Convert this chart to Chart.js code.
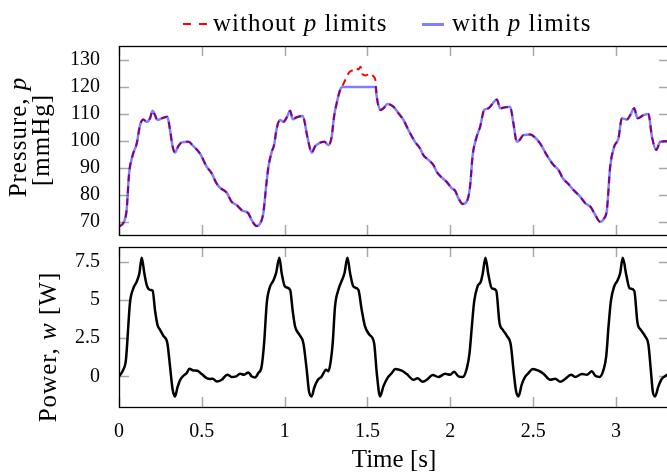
<!DOCTYPE html>
<html>
<head>
<meta charset="utf-8">
<script src="https://cdn.jsdelivr.net/npm/chart.js@4.4.1/dist/chart.umd.min.js"></script>
<style>
html, body { margin: 0; padding: 0; background: #fff; overflow: hidden; }
#wrap { position: relative; width: 667px; height: 475px; overflow: hidden; font-family: 'Liberation Serif', serif; color: #000; }
.box { position: absolute; left: 0; width: 680px; }
#topBox { top: 0; height: 240px; }
#botBox { top: 240px; height: 235px; }
.lab { position: absolute; font-size: 25px; line-height: 25px; letter-spacing: 1px; white-space: nowrap; }
.rot { transform: translate(-50%, -50%) rotate(-90deg); }
.key { position: absolute; height: 0; }
</style>
</head>
<body>
<div id="wrap">
  <div class="box" id="topBox"><canvas id="pressureChart"></canvas></div>
  <div class="box" id="botBox"><canvas id="powerChart"></canvas></div>

  <!-- legend -->
  <span class="key" style="left:183px; top:23px; width:8px; border-top:2px solid #ff0000;"></span>
  <span class="key" style="left:199px; top:23px; width:8px; border-top:2px solid #ff0000;"></span>
  <span class="lab" style="left:213px; top:10px;">without <i>p</i> limits</span>
  <span class="key" style="left:422px; top:23px; width:22px; border-top:3px solid #8080ff;"></span>
  <span class="lab" style="left:452px; top:10px;">with <i>p</i> limits</span>

  <!-- y axis titles -->
  <span class="lab rot" style="left:17px; top:137px;">Pressure, <i>p</i></span>
  <span class="lab rot" style="left:40px; top:140px;">[mmHg]</span>
  <span class="lab rot" style="left:47px; top:347px;">Power, <i>w</i> [W]</span>
</div>

<script>
// pressure samples (s, mmHg)
var pressureTime = [0.000,0.030,0.046,0.061,0.083,0.107,0.127,0.147,0.167,0.187,0.203,0.217,0.232,0.258,0.292,0.308,0.324,0.338,0.358,0.378,
  0.419,0.449,0.489,0.529,0.560,0.586,0.610,0.650,0.680,0.710,0.741,0.781,0.801,0.831,0.855,0.871,0.888,0.902,0.922,0.936,
  0.952,0.972,0.992,1.013,1.033,1.049,1.073,1.109,1.137,1.163,1.184,1.214,1.240,1.264,1.284,1.298,1.314,1.335,1.345,1.365,
  1.385,1.400,1.415,1.430,1.445,1.458,1.470,1.490,1.516,1.535,1.548,1.556,1.576,1.596,1.620,1.657,1.687,1.717,1.747,1.787,
  1.817,1.837,1.868,1.898,1.918,1.948,1.978,2.009,2.029,2.049,2.075,2.103,2.119,2.135,2.159,2.180,2.204,2.230,2.257,2.281,
  2.301,2.331,2.361,2.381,2.401,2.417,2.441,2.482,2.506,2.542,2.582,2.623,2.653,2.679,2.713,2.743,2.784,2.814,2.848,2.875,
  2.904,2.929,2.945,2.965,2.989,3.015,3.035,3.066,3.086,3.110,3.130,3.166,3.196,3.217,3.243,3.267,3.309,3.320];
var pressureNoLimit = [68.3,70.1,74.4,88.0,94.8,99.1,105.9,108.0,107.1,108.4,111.2,109.6,107.8,108.4,109.0,104.1,97.9,95.8,98.1,99.5,
  99.7,98.1,95.4,90.5,88.0,84.6,82.7,80.9,77.5,76.3,74.4,73.2,70.7,68.5,69.8,73.2,83.1,90.5,96.0,98.5,
  104.7,107.8,107.1,108.8,111.2,108.1,108.8,109.3,101.6,95.7,98.1,99.4,99.7,98.5,101.6,109.0,114.0,119.0,120.0,122.5,
  125.0,126.0,126.2,127.0,126.5,127.5,124.8,124.3,125.0,124.0,122.5,116.4,111.5,112.1,113.7,112.7,110.3,107.8,104.1,99.7,
  97.3,94.8,93.0,91.1,88.6,86.5,84.9,82.5,81.6,78.8,76.7,78.1,83.1,94.8,101.6,105.3,111.5,112.1,114.0,115.4,
  112.1,112.5,112.7,106.5,99.7,100.3,102.2,102.4,101.6,99.1,94.8,91.1,89.3,86.2,84.1,81.9,79.4,77.0,75.5,72.6,
  70.1,71.4,74.4,90.5,97.9,101.0,108.4,108.0,109.6,112.1,108.4,109.6,110.0,101.6,96.7,99.7,99.9,100.0];
var pressureLimited = [68.3,70.1,74.4,88.0,94.8,99.1,105.9,108.0,107.1,108.4,111.2,109.6,107.8,108.4,109.0,104.1,97.9,95.8,98.1,99.5,
  99.7,98.1,95.4,90.5,88.0,84.6,82.7,80.9,77.5,76.3,74.4,73.2,70.7,68.5,69.8,73.2,83.1,90.5,96.0,98.5,
  104.7,107.8,107.1,108.8,111.2,108.1,108.8,109.3,101.6,95.7,98.1,99.4,99.7,98.5,101.6,109.0,114.0,119.0,120.0,120.0,
  120.0,120.0,120.0,120.0,120.0,120.0,120.0,120.0,120.0,120.0,120.0,116.4,111.5,112.1,113.7,112.7,110.3,107.8,104.1,99.7,
  97.3,94.8,93.0,91.1,88.6,86.5,84.9,82.5,81.6,78.8,76.7,78.1,83.1,94.8,101.6,105.3,111.5,112.1,114.0,115.4,
  112.1,112.5,112.7,106.5,99.7,100.3,102.2,102.4,101.6,99.1,94.8,91.1,89.3,86.2,84.1,81.9,79.4,77.0,75.5,72.6,
  70.1,71.4,74.4,90.5,97.9,101.0,108.4,108.0,109.6,112.1,108.4,109.6,110.0,101.6,96.7,99.7,99.9,100.0];

// power samples (s, W)
var powerTime = [0.000,0.026,0.042,0.056,0.066,0.087,0.107,0.123,0.137,0.153,0.167,0.187,0.203,0.217,0.232,0.248,0.268,0.292,0.308,0.324,
  0.338,0.352,0.368,0.389,0.409,0.425,0.449,0.473,0.499,0.529,0.550,0.566,0.590,0.620,0.654,0.680,0.707,0.731,0.755,0.781,
  0.801,0.821,0.841,0.861,0.876,0.892,0.912,0.932,0.948,0.968,0.982,1.002,1.033,1.049,1.063,1.089,1.113,1.133,1.147,1.163,
  1.178,1.198,1.224,1.250,1.264,1.278,1.290,1.304,1.324,1.345,1.361,1.379,1.395,1.415,1.445,1.465,1.485,1.512,1.540,1.556,
  1.576,1.596,1.620,1.647,1.667,1.707,1.737,1.777,1.802,1.834,1.858,1.894,1.928,1.969,1.999,2.023,2.049,2.075,2.100,2.116,
  2.130,2.144,2.164,2.184,2.196,2.212,2.230,2.250,2.277,2.297,2.317,2.341,2.365,2.381,2.397,2.411,2.431,2.451,2.472,2.498,
  2.532,2.562,2.603,2.633,2.663,2.693,2.728,2.754,2.794,2.824,2.854,2.875,2.901,2.925,2.941,2.955,2.969,2.989,3.009,3.025,
  3.041,3.062,3.082,3.110,3.130,3.150,3.176,3.196,3.210,3.222,3.236,3.256,3.276,3.309,3.320];
var powerValue = [0.00,0.44,1.09,3.26,4.79,5.76,6.19,6.74,7.75,6.74,5.98,5.65,5.60,4.35,3.37,3.04,2.65,2.17,0.65,-0.87,
  -1.31,-0.76,-0.26,0.04,0.22,0.50,0.39,0.37,0.15,-0.11,-0.17,-0.15,-0.33,-0.22,0.11,-0.04,0.00,0.17,0.11,0.26,
  0.00,-0.07,0.22,0.65,2.17,4.79,5.87,6.26,6.74,7.75,6.74,5.87,5.65,4.24,3.26,2.72,2.17,0.44,-0.98,-1.31,
  -0.76,-0.26,0.00,0.44,0.33,0.98,2.17,4.57,5.65,6.26,6.74,7.75,6.74,5.87,5.65,4.35,3.26,2.72,2.17,0.22,
  -1.31,-0.65,-0.11,0.22,0.48,0.37,0.15,-0.22,-0.13,-0.35,-0.22,0.09,-0.04,0.17,0.11,0.30,0.00,-0.04,0.54,1.52,
  3.26,4.90,5.87,6.19,6.74,7.75,6.63,5.76,5.60,3.48,3.04,2.65,2.06,0.44,-0.98,-1.31,-0.54,-0.04,0.22,0.48,
  0.37,0.17,-0.22,-0.15,-0.35,-0.17,0.11,-0.04,0.15,0.11,0.33,0.04,-0.04,0.44,1.30,3.26,4.90,5.87,6.26,6.74,
  7.75,6.63,5.76,5.60,3.48,3.04,2.61,2.06,0.44,-0.98,-1.31,-0.65,-0.17,0.11,0.20];

// tick positions
var timeTicks = [0, 0.5, 1, 1.5, 2, 2.5, 3];
var pressureTicks = [70, 80, 90, 100, 110, 120, 130];
var powerTicks = [0, 2.5, 5, 7.5];

function pairs(xs, ys) {
  return xs.map(function (x, i) { return {x: x, y: ys[i]}; });
}

Chart.defaults.font.family = "'Liberation Serif', serif";
Chart.defaults.font.size = 20;
Chart.defaults.color = '#000';
Chart.defaults.animation = false;

// pgfplots-like frame with inward ticks on all four sides
var TICK = 10;
var frameTicks = {
  id: 'frameTicks',
  beforeDatasetsDraw: function (chart) {
    var ctx = chart.ctx, a = chart.chartArea, sx = chart.scales.x, sy = chart.scales.y;
    ctx.save();
    ctx.strokeStyle = '#a8a8a8';
    ctx.lineWidth = 1.5;
    ctx.beginPath();
    sx.ticks.forEach(function (t) {
      var px = Math.round(sx.getPixelForValue(t.value)) + 0.5;
      ctx.moveTo(px, a.top); ctx.lineTo(px, a.top + TICK);
      ctx.moveTo(px, a.bottom); ctx.lineTo(px, a.bottom - TICK);
    });
    sy.ticks.forEach(function (t) {
      var py = Math.round(sy.getPixelForValue(t.value)) + 0.5;
      ctx.moveTo(a.left, py); ctx.lineTo(a.left + TICK, py);
      ctx.moveTo(a.right, py); ctx.lineTo(a.right - TICK, py);
    });
    ctx.stroke();
    ctx.restore();
  },
  afterDatasetsDraw: function (chart) {
    var ctx = chart.ctx, a = chart.chartArea;
    ctx.save();
    ctx.strokeStyle = '#000';
    ctx.lineWidth = 1.3;
    ctx.strokeRect(Math.round(a.left) + 0.5, Math.round(a.top) + 0.5, a.right - a.left, a.bottom - a.top);
    ctx.restore();
  }
};

function fixedTicks(values) {
  return function (s) { s.ticks = values.map(function (v) { return {value: v}; }); };
}

function xScale(showLabels) {
  return {
    type: 'linear', min: 0, max: 3.32,
    grid: {display: false}, border: {display: false},
    afterBuildTicks: fixedTicks(timeTicks),
    ticks: {display: showLabels, padding: 5, maxRotation: 0, autoSkip: false,
            callback: function (v) { return String(v); }},
    title: showLabels ? {display: true, text: 'Time [s]', font: {size: 25}, padding: 0} : {display: false},
    afterFit: function (s) { s.height = showLabels ? 68 : 0; s.paddingLeft = 0; s.paddingRight = 0; }
  };
}

function yScale(min, max, tickValues) {
  return {
    type: 'linear', min: min, max: max,
    grid: {display: false}, border: {display: false},
    afterBuildTicks: fixedTicks(tickValues),
    ticks: {padding: 11, autoSkip: false, callback: function (v) { return String(v); }},
    afterFit: function (s) { s.width = 119; s.paddingTop = 0; s.paddingBottom = 0; }
  };
}

new Chart(document.getElementById('pressureChart'), {
  type: 'line',
  data: {
    datasets: [
      {
        label: 'without p limits',
        data: pairs(pressureTime, pressureNoLimit),
        borderColor: '#ff0000',
        borderWidth: 2,
        borderDash: [7, 5],
        pointRadius: 0,
        cubicInterpolationMode: 'monotone',
        fill: false,
        order: 1
      },
      {
        label: 'with p limits',
        data: pairs(pressureTime, pressureLimited),
        borderColor: 'rgba(0,0,255,0.5)',
        borderWidth: 2.5,
        pointRadius: 0,
        cubicInterpolationMode: 'monotone',
        fill: false,
        order: 0
      }
    ]
  },
  options: {
    responsive: true,
    maintainAspectRatio: false,
    layout: {padding: {top: 46, bottom: 5, left: 0, right: 11}},
    plugins: {legend: {display: false}, tooltip: {enabled: false}},
    scales: {x: xScale(false), y: yScale(65.2, 135.2, pressureTicks)}
  },
  plugins: [frameTicks]
});

new Chart(document.getElementById('powerChart'), {
  type: 'line',
  data: {
    datasets: [{
      label: 'Power',
      data: pairs(powerTime, powerValue),
      borderColor: '#000',
      borderWidth: 2.5,
      pointRadius: 0,
      cubicInterpolationMode: 'monotone',
      fill: false
    }]
  },
  options: {
    responsive: true,
    maintainAspectRatio: false,
    layout: {padding: {top: 7, bottom: 0, left: 0, right: 11}},
    plugins: {legend: {display: false}, tooltip: {enabled: false}},
    scales: {x: xScale(true), y: yScale(-2, 8.45, powerTicks)}
  },
  plugins: [frameTicks]
});
</script>
</body>
</html>
